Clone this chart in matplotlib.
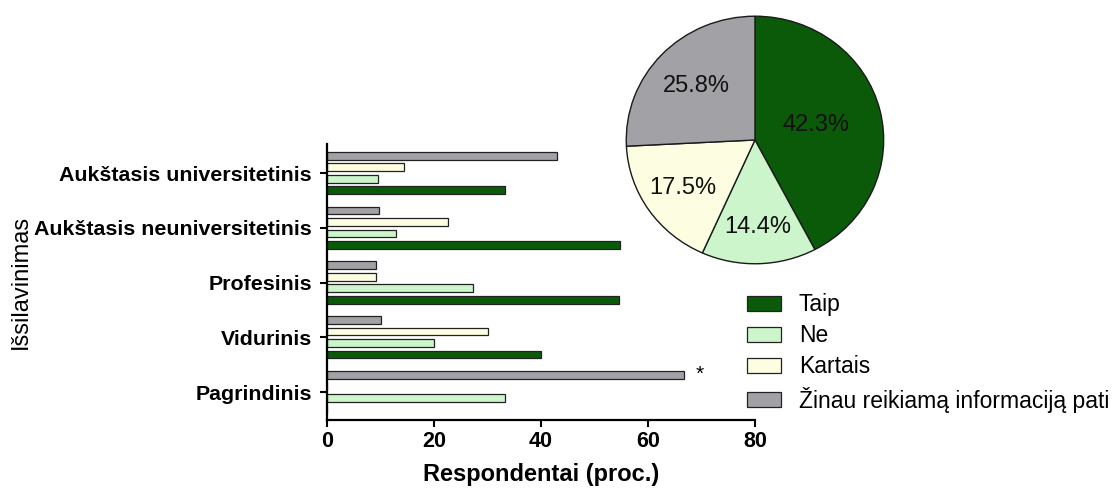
import numpy as np
import matplotlib
matplotlib.use('Agg')
import matplotlib.pyplot as plt

plt.rcParams['font.family'] = ['Liberation Sans', 'DejaVu Sans']

# education groups, top to bottom
categories = ['Aukštasis universitetinis', 'Aukštasis neuniversitetinis',
              'Profesinis', 'Vidurinis', 'Pagrindinis']
series = ['Taip', 'Ne', 'Kartais', 'Žinau reikiamą informaciją pati']
taip = [33.3, 54.8, 54.5, 40.0, 0.0]
ne = [9.5, 12.9, 27.3, 20.0, 33.3]
kartais = [14.3, 22.6, 9.1, 30.0, 0.0]
zinau = [42.9, 9.7, 9.1, 10.0, 66.7]
pie_values = [42.3, 14.4, 17.5, 25.8]

colors = ['#0a5a0a', '#ccf5cc', '#fdfde2', '#a2a2a6']

fig = plt.figure(figsize=(11.15, 4.91), dpi=100)

# bar chart
ax = fig.add_axes([0.2935, 0.1446, 0.3836, 0.5621])
y = np.arange(len(categories))[::-1].astype(float)
offsets = [-0.315, -0.105, 0.105, 0.315]
vals = [taip, ne, kartais, zinau]
bars = []
for v, off, c, lab in zip(vals, offsets, colors, series):
    b = ax.barh(y + off, v, height=0.14, color=c, edgecolor='#222222',
                linewidth=0.9, label=lab)
    bars.append(b)

ax.set_xlim(0, 80)
ax.set_ylim(-0.51, 4.53)
ax.set_xticks([0, 20, 40, 60, 80])
ax.set_yticks(y)
ax.set_yticklabels(categories, fontsize=15.4, fontweight='bold')
for t in ax.get_xticklabels():
    t.set_fontsize(15.5)
    t.set_fontweight('bold')
ax.spines['top'].set_visible(False)
ax.spines['right'].set_visible(False)
ax.spines['left'].set_linewidth(1.6)
ax.spines['bottom'].set_linewidth(1.6)
ax.tick_params(axis='both', direction='out', length=5, width=1.5)
ax.tick_params(axis='x', pad=3)
ax.tick_params(axis='y', pad=6)
ax.set_xlabel('Respondentai (proc.)', fontsize=17, fontweight='bold', labelpad=8)
ax.set_ylabel('Išsilavinimas', fontsize=17)
ax.yaxis.set_label_coords(-0.69, 0.5)

# significance mark on Pagrindinis
ax.text(zinau[4] + 3, y[4] + offsets[3], '*', fontsize=15, ha='center', va='center')

# pie chart
pax = fig.add_axes([0.5605, 0.4603, 0.2332, 0.5092])
wedges, _ = pax.pie(pie_values, colors=colors, startangle=90, counterclock=False,
                    wedgeprops=dict(edgecolor='#1a1a1a', linewidth=1.0))
pax.set_aspect('auto')
pax.set_xlim(-1.01, 1.01)
pax.set_ylim(-1.01, 1.01)
label_dist = [0.49, 0.70, 0.68, 0.63]
for w, v, d in zip(wedges, pie_values, label_dist):
    ang = np.deg2rad((w.theta1 + w.theta2) / 2)
    pax.text(d * np.cos(ang), d * np.sin(ang), '%.1f%%' % v, fontsize=17,
             ha='center', va='center', color='#111111')

fig.legend(handles=bars, labels=series, loc='upper left',
           bbox_to_anchor=(0.662, 0.421), frameon=False, fontsize=16.5,
           handlelength=1.45, handleheight=0.65, labelspacing=0.35,
           handletextpad=0.8, borderaxespad=0)

fig.savefig('out.png', dpi=100)
